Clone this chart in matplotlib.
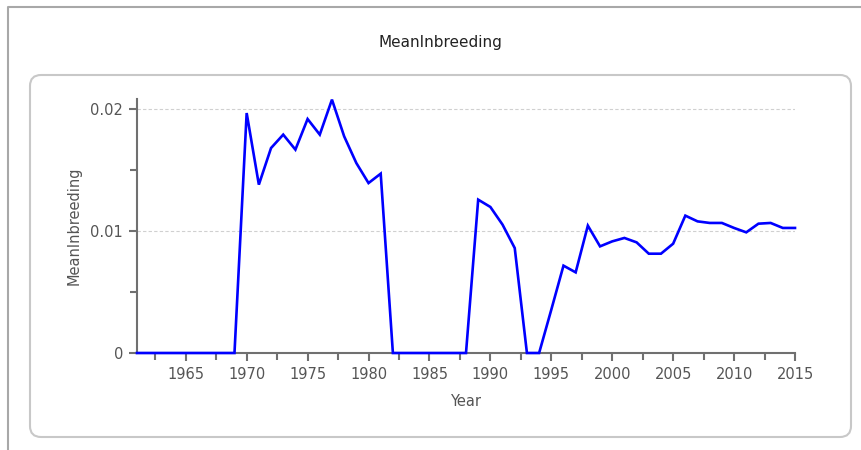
import matplotlib
matplotlib.use("Agg")
import matplotlib.pyplot as plt
from matplotlib.patches import FancyBboxPatch
from matplotlib.lines import Line2D
from matplotlib.transforms import IdentityTransform
from matplotlib.ticker import MultipleLocator

years = list(range(1961, 2016))
mean_inbreeding = [
    0, 0, 0, 0, 0, 0, 0, 0, 0,                 # 1961-1969
    0.01967, 0.0138, 0.0168, 0.0179, 0.01667,   # 1970-1974
    0.01918, 0.0179, 0.02077, 0.01776, 0.01557, # 1975-1979
    0.01393, 0.0147,                            # 1980-1981
    0, 0, 0, 0, 0, 0, 0,                        # 1982-1988
    0.01257, 0.01197, 0.01052, 0.0086,          # 1989-1992
    0, 0,                                       # 1993-1994
    0.00355, 0.00716, 0.00661, 0.01044, 0.00874,# 1995-1999
    0.00915, 0.00943, 0.00907, 0.00814, 0.00814,# 2000-2004
    0.00896, 0.01126, 0.01079, 0.01066, 0.01066,# 2005-2009
    0.01025, 0.00989, 0.0106, 0.01066, 0.01025, # 2010-2014
    0.01025,                                    # 2015
]
title = "MeanInbreeding"
x_label = "Year"
y_label = "MeanInbreeding"
y_ticks = [0, 0.01, 0.02]
y_tick_labels = ["0", "0.01", "0.02"]
x_ticks = list(range(1965, 2016, 5))

W, H = 861, 450
fig = plt.figure(figsize=(W / 100, H / 100), dpi=100)
fig.patch.set_facecolor("white")

# outer frame (top and left lines)
fig.add_artist(Line2D([8, 8, W], [0, H - 7, H - 7], transform=IdentityTransform(),
                      color="#a8a8a8", lw=1.5, zorder=-2))
# rounded panel
fig.add_artist(FancyBboxPatch((30, H - 437), 851 - 30, 437 - 75,
                              boxstyle="round,pad=0,rounding_size=11",
                              transform=IdentityTransform(),
                              facecolor="white", edgecolor="#c8c8c8", lw=1.5,
                              zorder=-1))

ax = fig.add_axes([137 / W, (H - 353) / H, (795 - 137) / W, (353 - 99) / H])
ax.set_zorder(5)
ax.set_facecolor("none")
ax.plot(years, mean_inbreeding, color="#0000ff", lw=1.9, solid_joinstyle="miter",
        clip_on=False, zorder=4)
ax.set_xlim(1961, 2015)
ax.set_ylim(0, 0.02082)

ax.set_xticks(x_ticks)
ax.set_xticklabels([str(v) for v in x_ticks])
ax.xaxis.set_minor_locator(MultipleLocator(2.5))
ax.set_yticks(y_ticks)
ax.set_yticklabels(y_tick_labels)
ax.yaxis.set_minor_locator(MultipleLocator(0.005))

for s in ["top", "right"]:
    ax.spines[s].set_visible(False)
for s in ["left", "bottom"]:
    ax.spines[s].set_color("#707070")
    ax.spines[s].set_linewidth(1.5)

ax.tick_params(which="both", color="#707070", width=1.5, labelcolor="#555555",
               labelsize=10.5)
ax.tick_params(which="major", length=6, pad=4)
ax.tick_params(which="minor", length=5)

ax.yaxis.grid(True, which="major", color="#d0d0d0", lw=0.8, ls=(0, (3, 2)))
ax.set_axisbelow(True)

ax.set_xlabel(x_label, fontsize=10.5, color="#555555", labelpad=9)
ax.set_ylabel(y_label, fontsize=10.5, color="#555555", labelpad=6)

fig.text(440 / W, 1 - 43 / H, title, ha="center", va="center", fontsize=11,
         color="#222222")

fig.savefig("out.png", dpi=100)
